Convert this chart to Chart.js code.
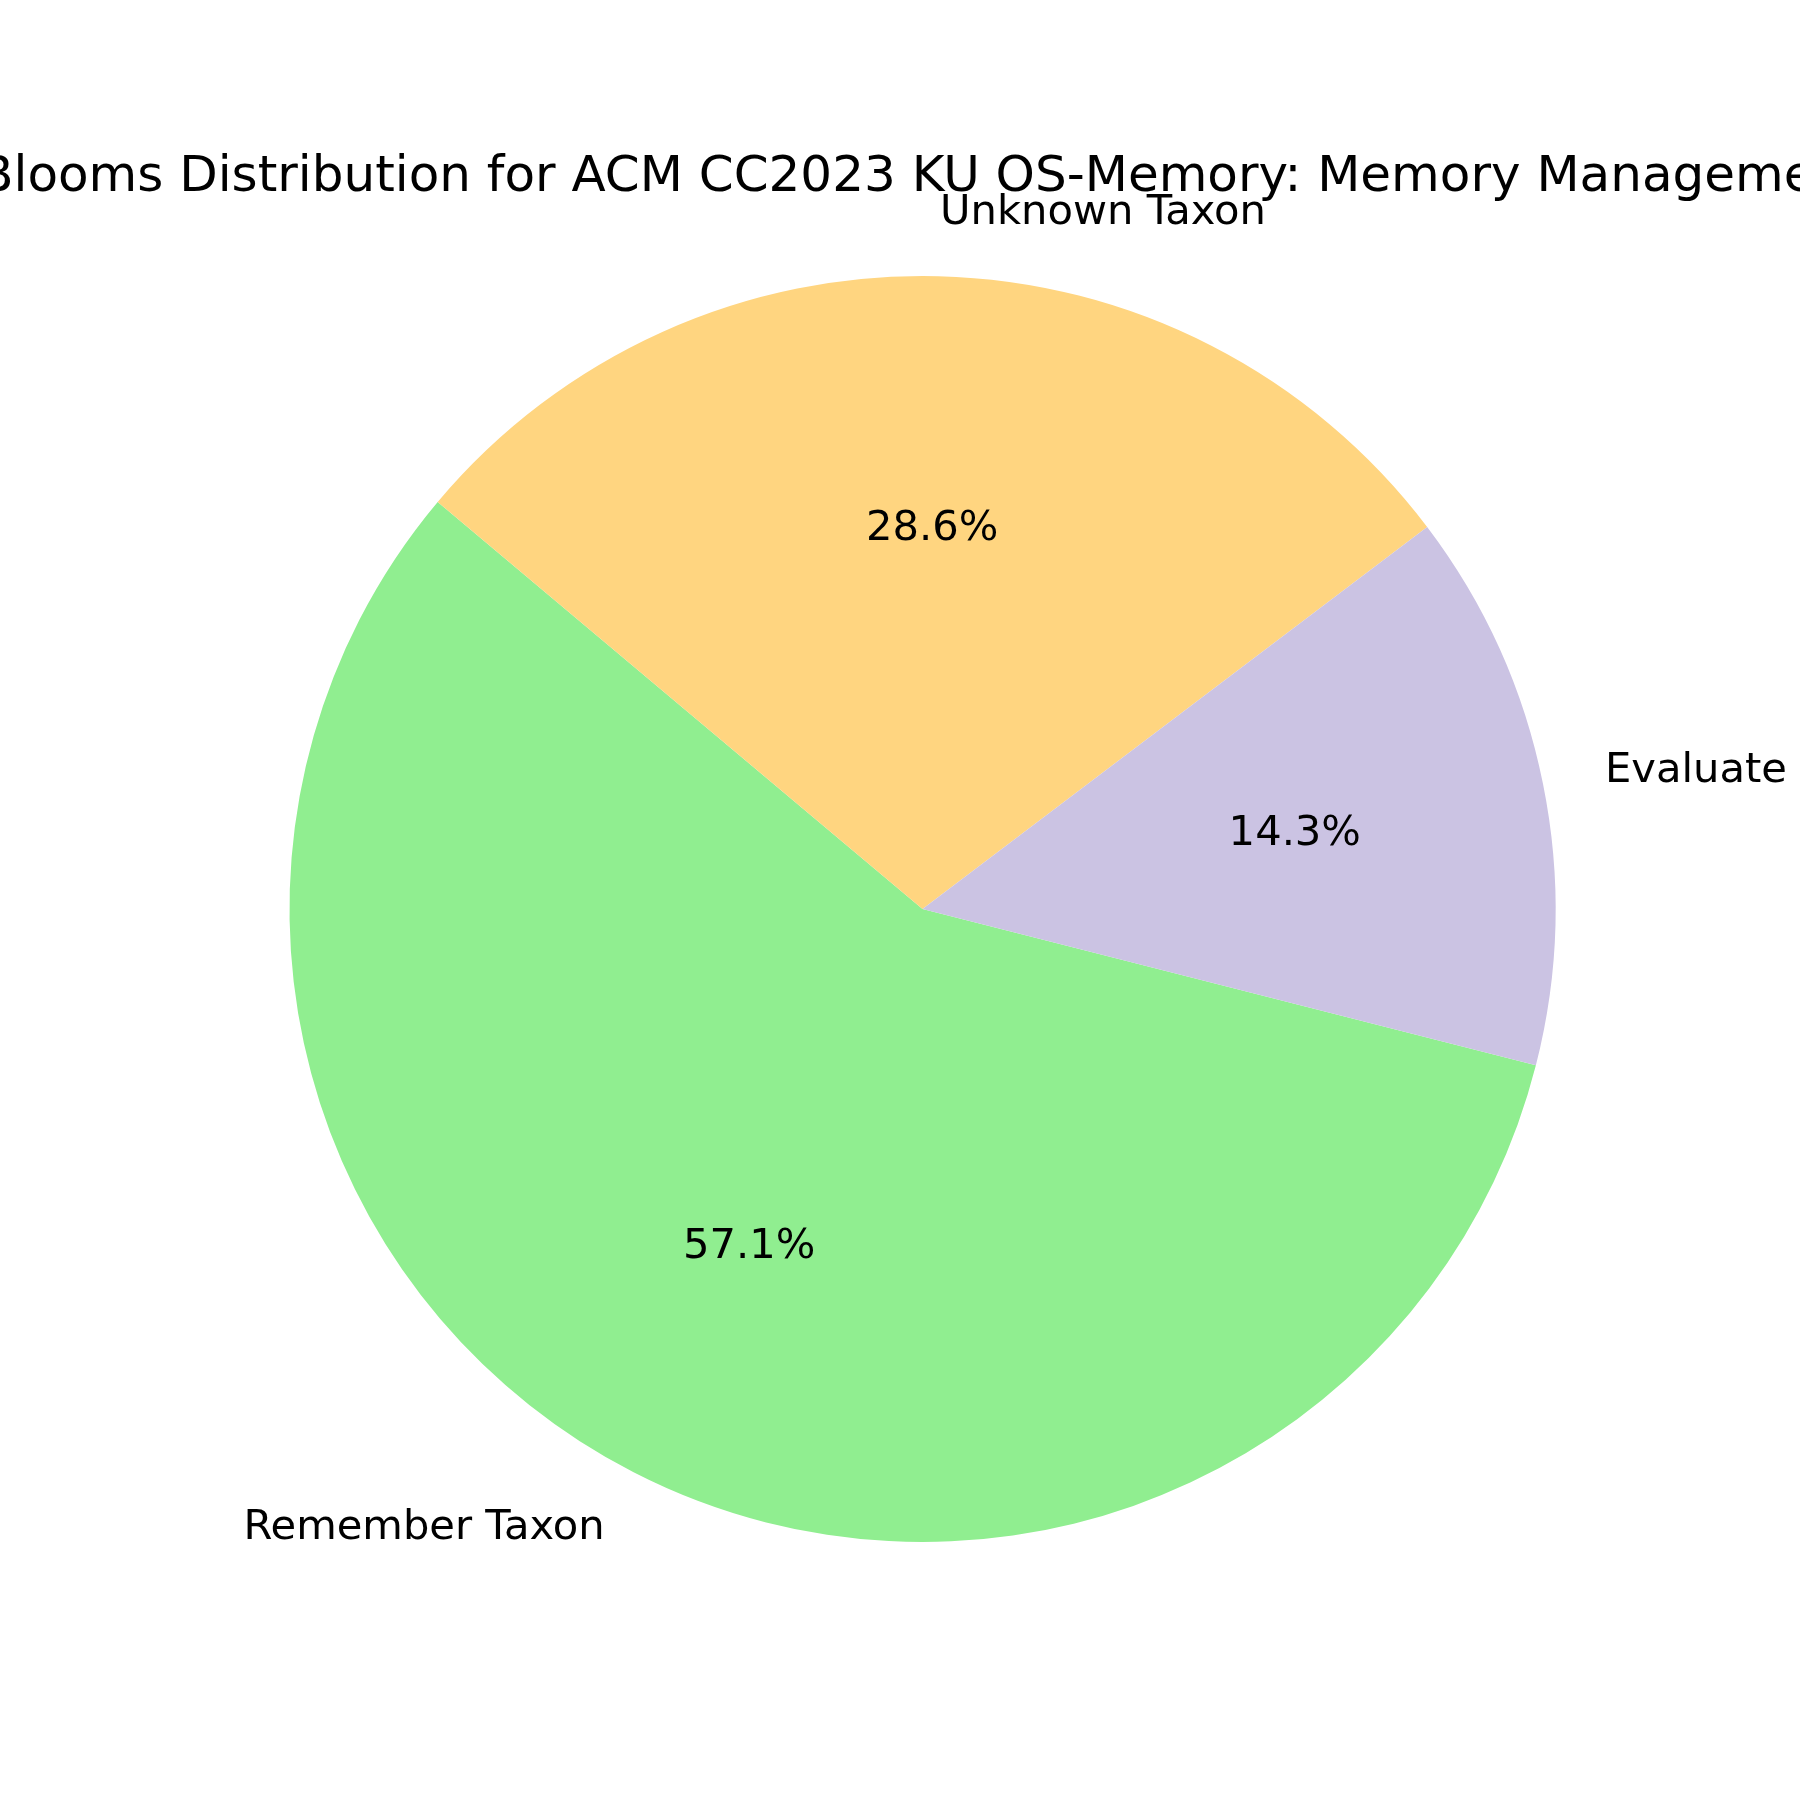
<!DOCTYPE html>
<html>
<head>
<meta charset="utf-8">
<script src="https://cdn.jsdelivr.net/npm/chart.js@4/dist/chart.umd.min.js"></script>
<style>
  html, body { margin: 0; padding: 0; background: #fff; }
  #wrap { width: 1800px; height: 1800px; }
</style>
</head>
<body>
<div id="wrap"><canvas id="chart-blooms" width="1800" height="1800"></canvas></div>
<script>
// datos
const categorias = ['Remember Taxon', 'Unknown Taxon', 'Evaluate Taxon']
const cantidades = [4, 2, 1]
const colores = ['#90EE90', '#FFD580', '#CBC3E3']
const titulo = 'Blooms Distribution for ACM CC2023 KU OS-Memory: Memory Management'

const fuente = '"DejaVu Sans", sans-serif'

// etiquetas afuera y porcentajes adentro, estilo matplotlib
const etiquetasPie = {
  id: 'etiquetasPie',
  afterDatasetsDraw(chart) {
    const { ctx } = chart
    const meta = chart.getDatasetMeta(0)
    const total = cantidades.reduce((a, b) => a + b, 0)

    ctx.save()
    ctx.fillStyle = '#000'
    ctx.font = `41.67px ${fuente}`
    ctx.textBaseline = 'middle'

    meta.data.forEach((arco, i) => {
      const { x, y, startAngle, endAngle, outerRadius } = arco.getProps(['x', 'y', 'startAngle', 'endAngle', 'outerRadius'], true)
      const medio = (startAngle + endAngle) / 2
      const cos = Math.cos(medio)
      const sin = Math.sin(medio)

      // nombre de la categoria
      ctx.textAlign = cos > 0 ? 'left' : 'right'
      ctx.fillText(categorias[i], x + cos * outerRadius * 1.1, y + sin * outerRadius * 1.1)

      // porcentaje
      const pct = (cantidades[i] / total * 100).toFixed(1) + '%'
      ctx.textAlign = 'center'
      ctx.fillText(pct, x + cos * outerRadius * 0.6, y + sin * outerRadius * 0.6)
    })

    // titulo (se corta a los costados como en el original)
    ctx.font = `50px ${fuente}`
    ctx.textAlign = 'center'
    ctx.textBaseline = 'alphabetic'
    ctx.fillText(titulo, 922.5, 191)
    ctx.restore()
  }
}

const ctx = document.getElementById('chart-blooms').getContext('2d')

new Chart(ctx, {
  type: 'pie',
  data: {
    labels: categorias,
    datasets: [{
      data: cantidades,
      backgroundColor: colores,
      borderWidth: 0,
      hoverOffset: 0
    }]
  },
  options: {
    responsive: false,
    maintainAspectRatio: false,
    devicePixelRatio: 1,
    animation: false,
    rotation: 104.3,
    layout: {
      padding: { left: 289.5, right: 244.5, top: 276, bottom: 258 }
    },
    plugins: {
      legend: { display: false },
      tooltip: { enabled: false },
      title: { display: false }
    }
  },
  plugins: [etiquetasPie]
})
</script>
</body>
</html>
